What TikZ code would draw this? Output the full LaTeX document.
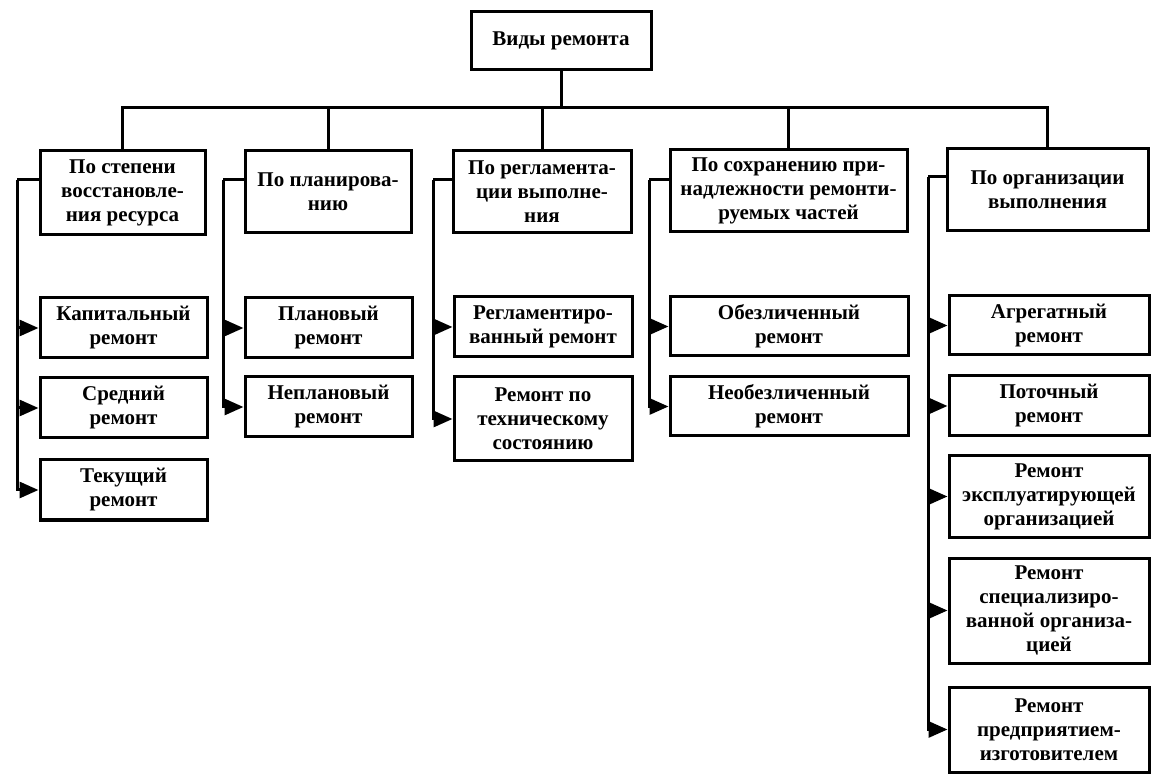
\documentclass[tikz,border=0pt]{standalone}
\usepackage{fontspec}
\setmainfont{Liberation Serif}
\usetikzlibrary{arrows.meta}
\begin{document}
\begin{tikzpicture}[x=1pt,y=-1pt,
  box/.style={draw,line width=3pt,align=center,inner sep=0pt,
    font=\bfseries\fontsize{21}{24}\selectfont},
  link/.style={line width=3pt},
  arr/.style={line width=3pt,-{Triangle[length=19pt,width=16pt]}}]
\useasboundingbox[fill=white] (0,0) rectangle (1160,783);
% root
\node[box,minimum width=180pt,minimum height=58pt] (top) at (561,41) {Виды ремонта};
% level 1
\node[box,minimum width=165pt,minimum height=84pt] (b1) at (122.5,193) {По степени\\восстановле-\\ния ресурса};
\node[box,minimum width=166pt,minimum height=82pt] (b2) at (328,192) {По планирова-\\нию};
\node[box,minimum width=178pt,minimum height=82pt] (b3) at (542,192) {По регламента-\\ции выполне-\\ния};
\node[box,minimum width=237pt,minimum height=82pt] (b4) at (788.5,191) {По сохранению при-\\надлежности ремонти-\\руемых частей};
\node[box,minimum width=201pt,minimum height=82pt] (b5) at (1047.5,190) {По организации\\выполнения};
% level 2
\node[box,minimum width=167pt,minimum height=60pt] (k1) at (123.5,328) {Капитальный\\ремонт};
\node[box,minimum width=167pt,minimum height=60pt] (k2) at (123.5,408) {Средний\\ремонт};
\node[box,minimum width=167pt,minimum height=60pt] (k3) at (123.5,490) {Текущий\\ремонт};
\node[box,minimum width=167pt,minimum height=60pt] (p1) at (328.5,328) {Плановый\\ремонт};
\node[box,minimum width=167pt,minimum height=60pt] (p2) at (328.5,407) {Неплановый\\ремонт};
\node[box,minimum width=178pt,minimum height=60pt] (r1) at (543,327) {Регламентиро-\\ванный ремонт};
\node[box,minimum width=178pt,minimum height=84pt] (r2) at (543,419) {Ремонт по\\техническому\\состоянию};
\node[box,minimum width=238pt,minimum height=59pt] (o1) at (789,326.5) {Обезличенный\\ремонт};
\node[box,minimum width=238pt,minimum height=59pt] (o2) at (789,406.5) {Необезличенный\\ремонт};
\node[box,minimum width=200pt,minimum height=59pt] (a1) at (1049,325.5) {Агрегатный\\ремонт};
\node[box,minimum width=200pt,minimum height=60pt] (a2) at (1049,406) {Поточный\\ремонт};
\node[box,minimum width=200pt,minimum height=81pt] (a3) at (1049,496.5) {Ремонт\\эксплуатирующей\\организацией};
\node[box,minimum width=200pt,minimum height=105pt] (a4) at (1049,610.5) {Ремонт\\специализиро-\\ванной организа-\\цией};
\node[box,minimum width=200pt,minimum height=85pt] (a5) at (1049,729.5) {Ремонт\\предприятием-\\изготовителем};
% tree from root
\coordinate (bus) at (561,108);
\draw[link] (top.south) -- (bus);
\draw[link] (bus) -| (b1.north);
\draw[link] (bus) -| (b2.north);
\draw[link] (bus) -| (b3.north);
\draw[link] (bus) -| (b4.north);
\draw[link] (bus) -| (b5.north);
% side connectors
\coordinate (s1) at (17,180);
\coordinate (s2) at (223,180);
\coordinate (s3) at (433,180);
\coordinate (s4) at (649,180);
\coordinate (s5) at (928,177);
\draw[link] (s1) -- (s1 -| b1.west);
\draw[link] (s2) -- (s2 -| b2.west);
\draw[link] (s3) -- (s3 -| b3.west);
\draw[link] (s4) -- (s4 -| b4.west);
\draw[link] (s5) -- (s5 -| b5.west);
\draw[arr] (s1) |- (k1.west);
\draw[arr] (s1) |- (k2.west);
\draw[arr] (s1) |- (k3.west);
\draw[arr] (s2) |- (p1.west);
\draw[arr] (s2) |- (p2.west);
\draw[arr] (s3) |- (r1.west);
\draw[arr] (s3) |- (r2.west);
\draw[arr] (s4) |- (o1.west);
\draw[arr] (s4) |- (o2.west);
\draw[arr] (s5) |- (a1.west);
\draw[arr] (s5) |- (a2.west);
\draw[arr] (s5) |- (a3.west);
\draw[arr] (s5) |- (a4.west);
\draw[arr] (s5) |- (a5.west);
\end{tikzpicture}
\end{document}
